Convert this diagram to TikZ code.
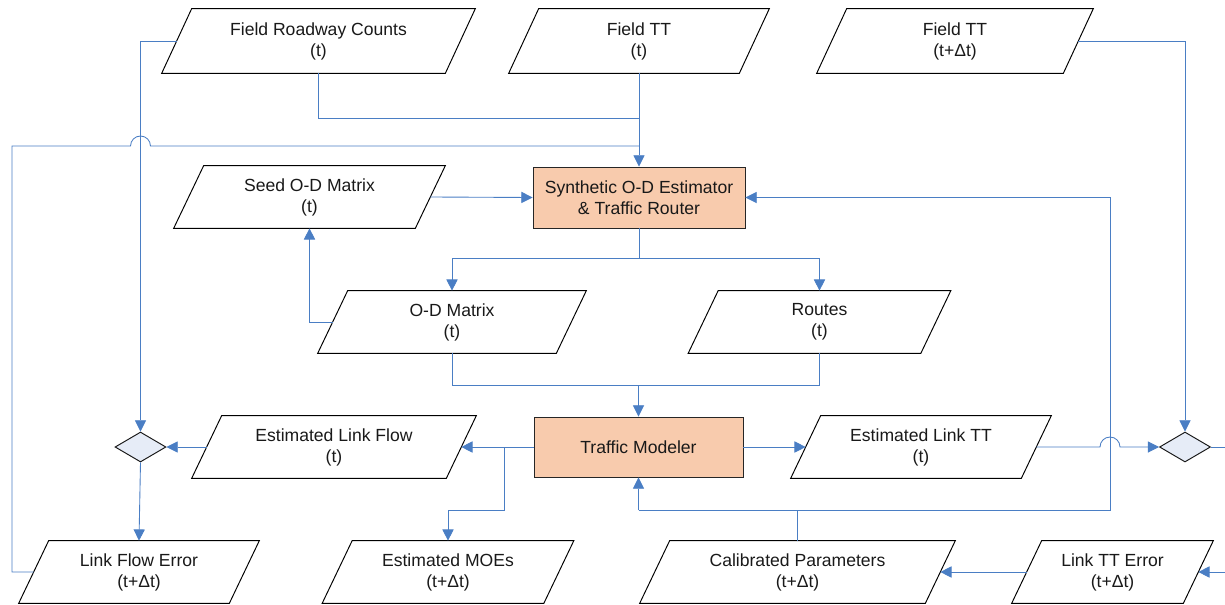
\documentclass[tikz,border=0pt]{standalone}
\usepackage{fontspec}
\setmainfont{Liberation Sans}
\usetikzlibrary{arrows.meta,shapes.geometric,calc}
\definecolor{linkblue}{RGB}{74,126,196}
\definecolor{peach}{RGB}{248,203,173}
\definecolor{dfill}{RGB}{230,236,247}
\begin{document}
\begin{tikzpicture}[x=0.02cm,y=-0.02cm,
  every node/.style={font=\fontsize{10}{12}\selectfont, align=center, inner sep=0pt, text=black!90},
  para/.style={minimum width=#1, minimum height=1.24cm},
  pbox/.style={draw=black, line width=0.55pt, line join=miter},
  proc/.style={draw=black!85, line width=0.55pt, fill=peach, minimum width=#1, minimum height=1.22cm},
  dec/.style={shape=diamond, draw=black!90, line width=0.55pt, fill=dfill, minimum width=1.02cm, minimum height=0.6cm, aspect=1.7},
  conn/.style={draw=linkblue, line width=0.5pt},
  arr/.style={conn, -{Triangle[length=6.4pt,width=6.4pt]}}
]
\useasboundingbox (0,0) rectangle (1225,605);

% parallelogram data nodes
\node[para=5.66cm, minimum height=1.28cm] (frc) at (318.5,41) {Field Roadway Counts\\(t)};
\node[para=4.60cm, minimum height=1.28cm] (ftt) at (639,41) {Field TT\\(t)};
\node[para=4.92cm, minimum height=1.28cm] (ftt2) at (955,41) {Field TT\\(t+\char"0394 t)};
\node[para=4.82cm] (seed) at (309.5,197) {Seed O-D Matrix\\(t)};
\node[para=4.76cm] (odm) at (452,322) {O-D Matrix\\(t)};
\node[para=4.64cm] (routes) at (819.5,322) {Routes\\(t)};
\node[para=5.08cm] (elf) at (334,447) {Estimated Link Flow\\(t)};
\node[para=4.60cm] (eltt) at (921,447) {Estimated Link TT\\(t)};
\node[para=4.20cm] (lfe) at (139,572) {Link Flow Error\\(t+\char"0394 t)};
\node[para=4.42cm] (moe) at (448,572) {Estimated MOEs\\(t+\char"0394 t)};
\node[para=5.70cm] (cal) at (797.5,572) {Calibrated Parameters\\(t+\char"0394 t)};
\node[para=3.42cm] (ltte) at (1112.5,572) {Link TT Error\\(t+\char"0394 t)};

\foreach \n in {frc,ftt,ftt2,seed,odm,routes,elf,eltt,lfe,moe,cal,ltte}
  \draw[pbox] ($(\n.north west)+(0.3cm,0)$) -- ($(\n.north east)+(0.3cm,0)$)
     -- ($(\n.south east)+(-0.3cm,0)$) -- ($(\n.south west)+(-0.3cm,0)$) -- cycle;

% process boxes
\node[proc=4.24cm] (synth) at (639,197.5) {Synthetic O-D Estimator\\\& Traffic Router};
\node[proc=4.18cm, minimum height=1.20cm] (tm) at (638.5,447) {Traffic Modeler};

% decision diamonds
\node[dec] (ld) at (140.5,447) {};
\node[dec] (rd) at (1185,447) {};

% junction coordinates
\coordinate (j1) at (639,118);
\coordinate (j2) at (639,146);
\coordinate (fl1) at (12,572);
\coordinate (fl2) at (12,146);
\coordinate (hopL) at (130.5,146);
\coordinate (s1) at (639,258);
\coordinate (m1) at (638.5,385);
\coordinate (t1) at (504,447);
\coordinate (t2) at (504,510);
\coordinate (b1) at (638.5,510);
\coordinate (b2) at (1110,510);
\coordinate (b3) at (1110,197.5);
\coordinate (hopR) at (1100,447);
\coordinate (edgeA) at (1225,447);
\coordinate (edgeB) at (1225,572);

% top inputs to estimator
\draw[conn] (frc.south) |- (j1);
\draw[arr] (ftt.south) -- (synth.north);
\draw[conn] (lfe.west) -- (fl1) -- (fl2) -- (hopL)
   arc[start angle=180, end angle=0, radius=0.2cm] -- (j2);

% field counts to left diamond
\draw[arr] (frc.west) -| (ld.north);
\draw[arr] (ld.south) -- (lfe.north);
\draw[arr] (elf.west) -- (ld.east);

% seed and estimator
\draw[arr] (seed.east) -- (synth.west);
\draw[conn] (synth.south) -- (s1);
\draw[arr] (s1) -| (odm.north);
\draw[arr] (s1) -| (routes.north);
\draw[arr] (odm.west) -| (seed.south);

% to traffic modeler
\draw[conn] (odm.south) |- (m1);
\draw[conn] (routes.south) |- (m1);
\draw[arr] (m1) -- (tm.north);

% traffic modeler outputs
\draw[arr] (tm.west) -- (elf.east);
\draw[arr] (t1) -- (t2) -| (moe.north);
\draw[arr] (tm.east) -- (eltt.west);

% right side
\draw[arr] (eltt.east) -- (hopR) arc[start angle=180, end angle=0, radius=0.2cm] -- (rd.west);
\draw[arr] (ftt2.east) -| (rd.north);
\draw[conn] (rd.east) -- (edgeA);
\draw[arr] (edgeB) -- (ltte.east);
\draw[arr] (ltte.west) -- (cal.east);

% calibrated parameters feedback
\draw[conn] (cal.north) -- (cal.north |- b1);
\draw[arr] (b1) -- (tm.south);
\draw[arr] (b1) -- (b2) -- (b3) -- (synth.east);
\end{tikzpicture}
\end{document}
